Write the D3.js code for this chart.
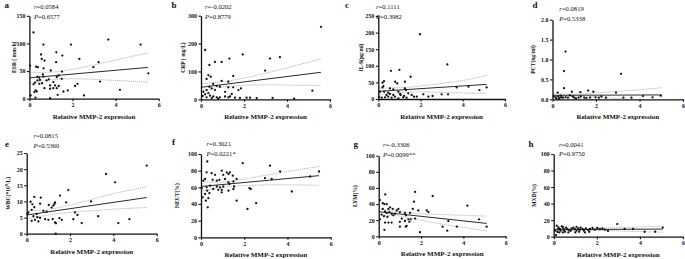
<!DOCTYPE html>
<html>
<head>
<meta charset="utf-8">
<script src="https://cdn.jsdelivr.net/npm/d3@7"></script>
<style>
  body { margin: 0; background: #fff; }
  svg text { font-family: "Liberation Serif", "Times New Roman", serif; fill: #111; }
</style>
</head>
<body>
<svg id="chart" width="685" height="259"></svg>
<script>
// ---- data ----
const xTicks = [0, 2, 4, 6];
const panelLetters = ["a", "b", "c", "d", "e", "f", "g", "h"];
const yTitles = ["ESR ( mm/h)", "CRP ( mg/L)", "IL-6(pg/ml)", "PCT(ng/ml)", "WBC(*10^9/L)", "NEUT(%)", "LYM(%)", "MXD(%)"];
const rValues = ["0.0584", "-0.0202", "0.1111", "0.0819", "0.0815", "0.3021", "-0.3306", "0.0041"];
const pValues = ["0.6577", "0.8779", "0.3982", "0.5338", "0.5360", "0.0221*", "0.0099**", "0.9750"];
const yTickSets = [
  [0, 50, 100, 150],
  [0, 100, 200, 300],
  [0, 50, 100, 150, 200, 250],
  [0, 0.5, 1.0, 1.5, 2.0],
  [0, 5, 10, 15, 20, 25],
  [0, 20, 40, 60, 80, 100],
  [0, 20, 40, 60, 80, 100],
  [0, 20, 40, 60, 80, 100]
];

// [MMP-2 expression, value]
const esrData = [[0.19,120],[0.65,98],[1.93,98],[3.66,107],[5.16,98],[1.25,84],[1.53,78],[0.54,80],[0.57,72],[0.70,69],[2.32,72],[1.24,66],[3.21,66],[2.97,57],[0.31,58],[0.39,57],[0.66,55],[0.99,51],[1.51,49],[0.03,60],[0.45,38],[0.37,33],[0.49,34],[0.62,44],[0.37,40],[0.9,35],[1.27,39],[1.5,36],[0.26,29],[0.19,26],[0.46,27],[0.59,28],[0.96,24],[1.19,24],[0.96,18],[1.11,19],[1.27,19],[1.36,23],[0.29,15],[0.23,12],[0.34,13],[0.70,19],[1.58,13],[1.78,15],[2.12,23],[2.23,27],[3.28,31],[4.2,16],[2.53,6],[1.31,7],[0.96,1],[0.06,6],[0.28,2],[5.52,46],[1.11,30],[0.8,33],[0.65,40],[1.36,42]];
const crpData = [[5.58,260],[0.19,177],[1.94,161],[1.32,146],[3.21,146],[3.67,151],[0.65,134],[0.96,134],[0.39,123],[2.98,103],[1.5,84],[0.34,87],[0.45,81],[0.26,73],[0.96,66],[1.27,63],[5.18,31],[0.57,55],[0.73,48],[0.88,45],[1.27,43],[1.5,43],[0.5,39],[0.26,33],[0.11,27],[1.74,33],[1.86,39],[0.19,18],[0.34,22],[0.42,13],[0.08,12],[0.57,10],[0.73,7],[0.88,7],[1.12,10],[1.27,7],[1.35,10],[1.58,6],[1.81,5],[2.12,6],[2.28,6],[2.59,4],[3.33,5],[4.33,2],[0.26,7],[0.5,4],[0.8,2],[1.43,19],[1.12,27],[0.39,45],[0.65,33]];
const il6Data = [[1.97,195],[3.27,104],[0.6,85],[1.0,88],[1.53,67],[0.27,54],[0.2,49],[0.8,52],[0.9,47],[1.26,52],[0.24,39],[0.2,35],[3.71,35],[4.27,37],[4.79,27],[5.13,35],[3.0,14],[3.3,14],[2.13,14],[2.37,7],[2.57,9],[0.55,32],[0.71,29],[1.26,32],[1.31,27],[0.08,22],[0.28,22],[0.47,19],[0.95,22],[1.03,15],[1.42,17],[1.58,12],[1.69,7],[1.82,7],[0.03,7],[0.16,4],[0.32,5],[0.47,7],[0.63,4],[0.79,7],[0.95,2],[1.18,5],[1.34,4],[0.39,12],[0.55,15],[0.71,12],[1.06,12],[1.22,9]];
const pctData = [[0.6,1.2],[0.53,0.71],[0.53,0.28],[3.15,0.64],[0.24,0.17],[0.89,0.19],[1.28,0.18],[1.64,0.22],[1.88,0.19],[2.92,0.17],[0.06,0.07],[0.15,0.05],[0.26,0.07],[0.33,0.03],[0.41,0.05],[0.48,0.04],[0.6,0.05],[0.71,0.04],[0.93,0.07],[1.0,0.04],[1.2,0.04],[1.3,0.07],[1.46,0.04],[1.56,0.03],[1.73,0.04],[1.98,0.05],[2.13,0.04],[2.25,0.07],[2.46,0.04],[3.26,0.04],[3.63,0.04],[4.16,0.08],[4.6,0.05],[4.98,0.09],[0.18,0.01],[0.3,0.01],[1.08,0.02],[0.38,0.09],[0.8,0.1]];
const wbcData = [[5.54,21.1],[3.66,18.5],[4.08,15.9],[1.92,13.5],[1.54,11.8],[2.97,10],[0.35,11.4],[0.65,11.2],[0.18,9.9],[0.26,9.1],[1.31,9.7],[1.28,9.2],[1.82,9.7],[0.62,9.3],[1.02,8.9],[1.15,8.1],[1.23,8.7],[0.35,8.2],[0.23,7.4],[0.77,7.1],[0.92,6.8],[2.23,6.6],[2.34,5.8],[3.3,5.4],[0.46,6.1],[0.08,6.6],[0.03,6.1],[0.31,5.4],[0.49,5.1],[0.62,4.9],[0.85,4.5],[1.0,4.3],[1.2,4.5],[1.51,4.8],[1.62,4.3],[2.15,4.5],[0.38,4.3],[0.23,4.0],[0.54,3.8],[1.31,3.5],[1.35,3.2],[2.54,3.3],[4.23,3.3],[4.74,4.5],[1.34,0]];
const neutData = [[0.29,91],[1.93,89],[3.19,86],[3.66,79],[5.46,79],[0.96,80],[0.26,78],[0.49,77],[0.65,75],[1.03,75],[1.19,78],[1.27,76],[1.34,78],[1.47,74],[0.11,68],[0.19,70],[0.54,69],[0.73,68],[0.85,69],[1.11,70],[1.65,70],[1.27,66],[1.5,67],[1.31,64],[2.96,71],[3.27,70],[5.05,73],[0.03,59],[0.26,60],[0.42,62],[0.73,61],[0.88,60],[1.03,61],[0.57,58],[0.8,57],[0.96,57],[1.53,61],[1.27,56],[1.5,58],[2.24,59],[2.3,58],[0.29,56],[0.39,53],[0.19,52],[0.96,54],[0.08,48],[0.23,44],[0.34,47],[1.65,44],[2.55,41],[0.31,36],[2.15,34],[4.2,55]];
const lymData = [[0.06,45],[1.72,55],[2.55,50],[0.31,52],[0.19,41],[0.27,40],[0.38,40],[0.54,36],[0.66,34],[0.46,34],[0.19,34],[0.93,34],[0.85,32],[1.0,30],[0.77,28],[0.3,31],[0.38,29],[0.5,30],[0.61,28],[0.69,26],[1.24,29],[1.48,29],[1.61,34],[1.67,43],[1.87,32],[2.27,32],[2.35,30],[4.19,38],[0.14,27],[0.25,25],[0.41,24],[0.06,21],[1.09,22],[1.29,26],[1.4,21],[1.51,21],[1.72,22],[1.0,18],[1.24,19],[1.45,18],[1.32,13],[1.28,12],[1.0,12],[0.3,17],[0.46,17],[0.61,17],[3.29,19],[3.02,12],[3.69,12],[3.24,7],[1.95,5],[0.27,8],[4.74,21],[5.1,12]];
const mxdData = [[0.14,13.3],[0.22,11.3],[0.29,9.3],[0.32,7.3],[0.37,12.5],[0.45,10],[0.48,8],[0.57,11],[0.63,9.3],[0.72,8],[0.83,10],[0.91,11],[0.98,9.3],[1.06,7.3],[1.14,10],[1.22,8.5],[1.25,11],[1.34,9.3],[1.4,7.3],[1.49,10],[1.6,8],[1.68,9.3],[1.8,10.5],[1.91,8.5],[2.02,10.5],[2.14,9.3],[2.26,10],[2.37,8.5],[2.52,7],[2.95,15.3],[3.29,9.3],[3.68,9.3],[4.22,6],[4.71,6],[5.06,11],[0.11,2],[0.06,7.3],[0.17,6],[0.26,5.2],[0.42,5.2],[0.52,6],[0.68,5.2],[0.78,7],[1.0,5.2],[1.18,6],[1.45,5.2],[1.65,6],[0.22,9.3],[0.42,12],[1.06,12]];

// regression line and 95% confidence bands, [x, y]
const esrFit = [[0,37.6],[5.5,56.6]];
const esrUpper = [[0,48],[1,48],[2,53],[3,61],[4,70],[5.5,83]];
const esrLower = [[0,28],[1,34],[2,36],[3,35],[4,33],[5.5,30]];
const crpFit = [[0,43],[5.58,97]];
const crpUpper = [[0,56],[1,63],[2,76],[3,94],[4,113],[5.58,145]];
const crpLower = [[0,30],[1,44],[2,50],[3,52],[4,51],[5.58,49]];
const il6Fit = [[0,23],[5.13,44]];
const il6Upper = [[0,33],[1,34],[2,39],[3,47],[4,56],[5.13,71]];
const il6Lower = [[0,14],[1,19],[2,21],[3,20],[4,18],[5.13,17]];
const pctFit = [[0,0.1],[5.0,0.11]];
const pctUpper = [[0,0.14],[1,0.13],[2,0.16],[3,0.2],[4,0.24],[5.0,0.29]];
const pctLower = [[0,0.06],[1,0.08],[2,0.06],[3,0.02],[4,-0.02],[5.0,-0.07]];
const wbcFit = [[0,5.8],[5.54,11.2]];
const wbcUpper = [[0,7.1],[1,7.5],[2,8.9],[3,10.6],[4,12.4],[5.54,14.5]];
const wbcLower = [[0,4.5],[1,5.8],[2,6.6],[3,7.1],[4,7.6],[5.54,8.1]];
const neutFit = [[0,61],[5.46,74]];
const neutUpper = [[0,67],[1,66.5],[2,70],[3,74.5],[4,79],[5.46,85]];
const neutLower = [[0,55],[1,60],[2,62],[3,63],[4,63],[5.46,62.5]];
const lymFit = [[0,30.5],[5.1,16]];
const lymUpper = [[0,34],[1,30.5],[2,28],[3,27],[4,26],[5.1,25]];
const lymLower = [[0,26],[1,25],[2,20],[3,15],[4,11],[5.1,6.5]];
const mxdFit = [[0,8.5],[5.06,9.2]];
const mxdUpper = [[0,10],[1,9.6],[2,10.2],[3,11],[4,11.8],[5.06,12.8]];
const mxdLower = [[0,7],[1,7.8],[2,7.6],[3,7],[4,6.2],[5.06,5.4]];

const pointSets = [esrData, crpData, il6Data, pctData, wbcData, neutData, lymData, mxdData];
const fitSets = [esrFit, crpFit, il6Fit, pctFit, wbcFit, neutFit, lymFit, mxdFit];
const upperSets = [esrUpper, crpUpper, il6Upper, pctUpper, wbcUpper, neutUpper, lymUpper, mxdUpper];
const lowerSets = [esrLower, crpLower, il6Lower, pctLower, wbcLower, neutLower, lymLower, mxdLower];

// ---- layout (pixels) ----
// ox: y-axis x, x6: x pixel of 6, y0: pixel of 0, yTop: pixel of top tick
const layout = [
  { ox: 29.4,  x6: 158.7, y0: 98.7,  yTop: 15.8,  lx: 4.5,   ly: 8,   tx: 13.5,  ax: 34,    ry: 8.5,   py: 18.5 },
  { ox: 201,   x6: 330,   y0: 99.3,  yTop: 15.7,  lx: 171.5, ly: 7.5, tx: 183.3, ax: 205,   ry: 8.5,   py: 18.5 },
  { ox: 378.3, x6: 505,   y0: 99,    yTop: 16,    lx: 345,   ly: 8,   tx: 361,   ax: 376,   ry: 8.5,   py: 18.5 },
  { ox: 552.5, x6: 683,   y0: 99.3,  yTop: 19.7,  lx: 532.5, ly: 8,   tx: 532.7, ax: 559.3, ry: 10.5,  py: 20.5 },
  { ox: 26.7,  x6: 156.7, y0: 233.7, yTop: 153,   lx: 5,     ly: 147, tx: 7.5,   ax: 33.5,  ry: 138,   py: 148 },
  { ox: 201,   x6: 330.7, y0: 237.3, yTop: 154,   lx: 172,   ly: 145, tx: 177.3, ax: 206.5, ry: 146,   py: 156 },
  { ox: 378.7, x6: 505.7, y0: 236.3, yTop: 155.7, lx: 353.5, ly: 147, tx: 355,   ax: 383,   ry: 147,   py: 156.5 },
  { ox: 553.7, x6: 683,   y0: 236.7, yTop: 154,   lx: 528.5, ly: 147, tx: 534,   ax: 559,   ry: 146.5, py: 156 }
];

const svg = d3.select("#chart");
const defs = svg.append("defs");

layout.forEach((L, i) => {
  const yTicks = yTickSets[i];
  const x = d3.scaleLinear().domain([0, 6]).range([L.ox, L.x6]);
  const y = d3.scaleLinear().domain([0, yTicks[yTicks.length - 1]]).range([L.y0, L.yTop]);
  const g = svg.append("g");

  // clip for the regression curves
  defs.append("clipPath").attr("id", "clip" + i)
    .append("rect").attr("x", L.ox).attr("y", L.yTop - 5)
    .attr("width", L.x6 - L.ox).attr("height", L.y0 - L.yTop + 5);

  const line = d3.line().x(d => x(d[0])).y(d => y(d[1]));
  const curve = d3.line().x(d => x(d[0])).y(d => y(d[1])).curve(d3.curveNatural);

  const lines = g.append("g").attr("clip-path", `url(#clip${i})`);
  [upperSets[i], lowerSets[i]].forEach(band => {
    lines.append("path").datum(band).attr("d", curve)
      .attr("fill", "none").attr("stroke", "#a8a8a8").attr("stroke-width", 0.8)
      .attr("stroke-dasharray", "1.2,0.8");
  });
  lines.append("path").datum(fitSets[i]).attr("d", line)
    .attr("fill", "none").attr("stroke", "#2a2a2a").attr("stroke-width", 1);

  // points
  g.append("g").selectAll("circle").data(pointSets[i]).join("circle")
    .attr("cx", d => x(d[0])).attr("cy", d => y(d[1])).attr("r", 1.15)
    .attr("fill", "#111");

  // axes
  const fmt = i === 3 ? d3.format(".1f") : d3.format("d");
  const xAxis = g.append("g").attr("transform", `translate(0,${L.y0})`)
    .call(d3.axisBottom(x).tickValues(xTicks).tickSize(2.5).tickSizeOuter(0).tickPadding(1.5).tickFormat(d3.format("d")));
  const yAxis = g.append("g").attr("transform", `translate(${L.ox},0)`)
    .call(d3.axisLeft(y).tickValues(yTicks).tickSize(2.5).tickSizeOuter(0).tickPadding(1.5).tickFormat(fmt));
  [xAxis, yAxis].forEach(a => {
    a.select(".domain").attr("stroke", "#111").attr("stroke-width", 1.3);
    a.selectAll(".tick line").attr("stroke", "#111").attr("stroke-width", 1.1);
    a.selectAll(".tick text").style("font-family", '"Liberation Serif", serif')
      .style("font-size", "6px").style("font-weight", "bold").attr("fill", "#111");
  });

  // x title
  g.append("text").attr("x", (L.ox + L.x6) / 2).attr("y", L.y0 + 20)
    .attr("text-anchor", "middle").style("font-size", "7px").style("font-weight", "bold")
    .text("Relative MMP-2 expression");

  // y title
  const yt = g.append("text")
    .attr("transform", `translate(${L.tx},${(L.y0 + L.yTop) / 2}) rotate(-90)`)
    .attr("text-anchor", "middle").attr("dominant-baseline", "central")
    .style("font-size", "5.6px").style("font-weight", "bold");
  const parts = yTitles[i].split("^");
  if (parts.length > 1) {
    yt.append("tspan").text(parts[0]);
    yt.append("tspan").attr("dy", -2).style("font-size", "4px").text(parts[1][0]);
    yt.append("tspan").attr("dy", 2).text(parts[1].slice(1));
  } else {
    yt.text(yTitles[i]);
  }

  // panel letter
  g.append("text").attr("x", L.lx).attr("y", L.ly)
    .style("font-size", "9px").style("font-weight", "bold").text(panelLetters[i]);

  // r and P
  const rt = g.append("text").attr("x", L.ax).attr("y", L.ry).style("font-size", "6.6px");
  rt.append("tspan").style("font-style", "italic").text("r");
  rt.append("tspan").text("=" + rValues[i]);
  const pt = g.append("text").attr("x", L.ax).attr("y", L.py).style("font-size", "6.6px");
  pt.append("tspan").style("font-style", "italic").text("P");
  pt.append("tspan").text("=" + pValues[i]);
});
</script>
</body>
</html>
